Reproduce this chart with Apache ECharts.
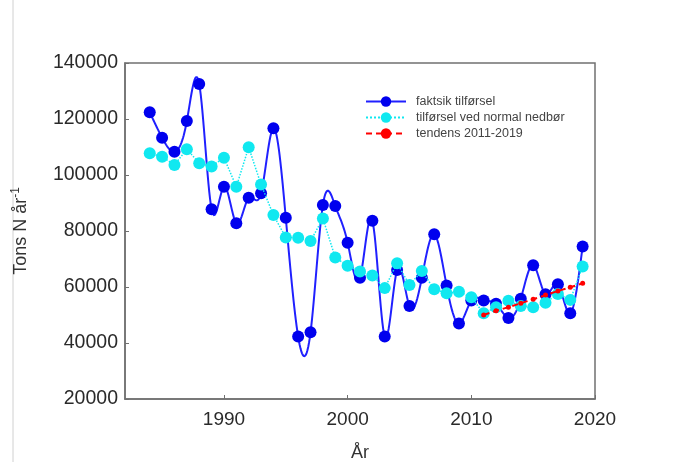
<!DOCTYPE html>
<html><head><meta charset="utf-8">
<script src="https://cdn.jsdelivr.net/npm/echarts@6/dist/echarts.min.js"></script>
<style>html,body{margin:0;padding:0;background:#fff}#c{width:692px;height:462px}</style>
</head><body><div id="c"></div>
<script>
const years = [1984,1985,1986,1987,1988,1989,1990,1991,1992,1993,1994,1995,1996,1997,1998,1999,2000,2001,2002,2003,2004,2005,2006,2007,2008,2009,2010,2011,2012,2013,2014,2015,2016,2017,2018,2019];
const faktisk = [122400,113300,108300,119300,132500,87800,95800,82800,91900,93500,116700,84700,42300,43800,89300,88900,75800,63300,83700,42300,66100,53200,63300,78800,60500,47000,55200,55200,54000,48900,55800,67800,57400,61000,50600,74500];
const normal = [107800,106500,103600,109200,104200,103000,106200,95800,109900,96600,85700,77700,77600,76400,84500,70500,67600,65500,64100,59600,68500,60700,65700,59200,57800,58300,56300,50600,52800,55100,53200,52800,54400,57500,55400,67300];
const trendYears = [2011,2012,2013,2014,2015,2016,2017,2018,2019];
const trend = [50000,51500,52800,54200,55600,57100,58600,59900,61300];
const xTicks = [1990,2000,2010,2020];
const seriesNames = ['faktsik tilførsel','tilførsel ved normal nedbør','tendens 2011-2019'];

const font = 'Arial, "Liberation Sans", sans-serif';
const BLUE_LINE = '#2020ff', BLUE_DOT = '#0000ee', CYAN = '#10e8f0', RED = '#ff0000';
const pair = (xs, ys) => xs.map((x, i) => [x, ys[i]]);

// natural cubic spline through the data (in data space), sampled for drawing
function naturalSpline(xs, ys, steps) {
  const n = xs.length;
  const h = [];
  for (let i = 0; i < n - 1; i++) h.push(xs[i + 1] - xs[i]);
  const a = new Array(n).fill(0), b = new Array(n).fill(1), c = new Array(n).fill(0), d = new Array(n).fill(0);
  for (let i = 1; i < n - 1; i++) {
    a[i] = h[i - 1]; b[i] = 2 * (h[i - 1] + h[i]); c[i] = h[i];
    d[i] = 6 * ((ys[i + 1] - ys[i]) / h[i] - (ys[i] - ys[i - 1]) / h[i - 1]);
  }
  const cp = new Array(n).fill(0), dp = new Array(n).fill(0);
  cp[0] = c[0] / b[0]; dp[0] = d[0] / b[0];
  for (let i = 1; i < n; i++) {
    const m = b[i] - a[i] * cp[i - 1];
    cp[i] = c[i] / m; dp[i] = (d[i] - a[i] * dp[i - 1]) / m;
  }
  const M = new Array(n).fill(0);
  M[n - 1] = dp[n - 1];
  for (let i = n - 2; i >= 0; i--) M[i] = dp[i] - cp[i] * M[i + 1];
  const out = [];
  for (let i = 0; i < n - 1; i++) {
    for (let s = 0; s < steps; s++) {
      const t = s / steps, hi = h[i], x = xs[i] + t * hi;
      const A = 1 - t, B = t;
      const y = A * ys[i] + B * ys[i + 1] + ((A * A * A - A) * M[i] + (B * B * B - B) * M[i + 1]) * hi * hi / 6;
      out.push([x, y]);
    }
  }
  out.push([xs[n - 1], ys[n - 1]]);
  return out;
}
const splinePts = naturalSpline(years, faktisk, 16);

const chart = echarts.init(document.getElementById('c'), null, {renderer: 'canvas'});
chart.setOption({
  backgroundColor: '#fff',
  animation: false,
  textStyle: {fontFamily: font},
  graphic: [{type: 'line', shape: {x1: 13, y1: 0, x2: 13, y2: 462}, style: {stroke: '#d0d0d0', lineWidth: 1}}],
  grid: {left: 125, right: 97, top: 63, bottom: 63, show: true, borderColor: '#707070', borderWidth: 1.5,
         backgroundColor: 'transparent', containLabel: false, outerBoundsMode: 'none'},
  legend: {
    orient: 'vertical', left: 365, top: 95, padding: 0, itemWidth: 40, itemHeight: 13, itemGap: 3,
    textStyle: {fontFamily: font, fontSize: 12.5, color: '#444', padding: [0, 0, 0, 5]},
    data: [
      {name: seriesNames[0], lineStyle: {color: BLUE_LINE, width: 2, opacity: 1}},
      {name: seriesNames[1]},
      {name: seriesNames[2]}
    ]
  },
  xAxis: {
    type: 'value', min: 1982, max: 2020,
    name: 'År', nameLocation: 'middle', nameGap: 45,
    nameTextStyle: {fontFamily: font, fontSize: 18, color: '#333'},
    axisLine: {show: true, lineStyle: {color: '#707070', width: 1.5}},
    axisTick: {show: true, inside: true, length: 4, customValues: xTicks, lineStyle: {color: '#707070'}},
    axisLabel: {customValues: xTicks, fontSize: 19, color: '#2a2a2a', margin: 11, formatter: v => String(v)},
    splitLine: {show: false}
  },
  yAxis: {
    type: 'value', min: 20000, max: 140000, interval: 20000,
    name: '{a|Tons N år}{b|-1}', nameLocation: 'middle', nameGap: 92, nameRotate: 90,
    nameTextStyle: {rich: {a: {fontFamily: font, fontSize: 18, color: '#333'}, b: {fontFamily: font, fontSize: 12, color: '#333', verticalAlign: 'top', padding: [0,0,11,0]}}},
    axisLine: {show: true, lineStyle: {color: '#707070', width: 1.5}},
    axisTick: {show: true, inside: true, length: 4, lineStyle: {color: '#707070'}},
    axisLabel: {fontSize: 19.5, color: '#2a2a2a', margin: 7, formatter: v => String(v)},
    splitLine: {show: false}
  },
  series: [
    {type: 'custom', name: 'spline', data: pair(years, faktisk), z: 2, silent: true,
     renderItem: function (params, api) {
       if (params.dataIndex !== 0) return null;
       const pts = splinePts.map(p => api.coord(p));
       return {type: 'polyline', shape: {points: pts}, style: {stroke: BLUE_LINE, lineWidth: 2, fill: null}};
     }},
    {name: seriesNames[0], type: 'line', data: pair(years, faktisk),
     symbol: 'circle', symbolSize: 12, itemStyle: {color: BLUE_DOT},
     lineStyle: {color: BLUE_LINE, width: 2, opacity: 0}, z: 3},
    {name: seriesNames[1], type: 'line', data: pair(years, normal),
     symbol: 'circle', symbolSize: 12, itemStyle: {color: CYAN},
     lineStyle: {color: CYAN, width: 1.5, type: 'dotted'}, z: 4},
    {name: seriesNames[2], type: 'line', data: pair(trendYears, trend),
     symbol: 'circle', symbolSize: 5, itemStyle: {color: RED},
     lineStyle: {color: RED, width: 2, type: [6, 4]}, z: 5}
  ]
});
</script></body></html>
